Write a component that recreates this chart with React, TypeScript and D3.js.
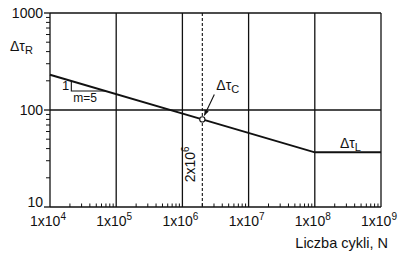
import React from "react";
import * as d3 from "d3";

const xDecades = [4, 5, 6, 7, 8, 9];
const yDecades = [1, 2, 3];
const yTickLabels = ["10", "100", "1000"];
const snN = [1e4, 2e6, 1e8, 1e9];
const snTau = [231, 80, 36.6, 36.6];
const detailN = 2e6;
const detailTau = 80;
const slopeStartN = 2.1e4;
const slopeEndTau = 157;

const W = 408;
const H = 256;
const FONT = "'Liberation Sans', Arial, Helvetica, sans-serif";

export default function App() {
  const x = d3.scaleLog().domain([1e4, 1e9]).range([50, 381]);
  const y = d3.scaleLog().domain([10, 1000]).range([207, 13]);

  const line = d3
    .line<number>()
    .x((_, i) => x(snN[i]))
    .y((d) => y(d));

  const xMinor: number[] = [];
  for (let e = 4; e < 9; e++) for (let k = 2; k <= 9; k++) xMinor.push(k * Math.pow(10, e));
  const yMinor: number[] = [];
  for (let e = 1; e < 3; e++) for (let k = 2; k <= 9; k++) yMinor.push(k * Math.pow(10, e));

  const px = x(detailN);
  const py = y(detailTau);

  const seg = d3.scaleLog().domain([snN[0], snN[1]]).range([Math.log10(snTau[0]), Math.log10(snTau[1])]);
  const sx0 = x(slopeStartN);
  const sy0 = y(Math.pow(10, seg(slopeStartN)));
  const sy1 = y(slopeEndTau);
  const sx1 = x(seg.invert(Math.log10(slopeEndTau)));

  const ax0 = px + 12;
  const ay0 = py - 25;
  const ax1 = px + 2;
  const ay1 = py - 4;
  const ang = Math.atan2(ay1 - ay0, ax1 - ax0);
  const ah = 6;
  const headPts = [
    [ax1, ay1],
    [ax1 - ah * Math.cos(ang - 0.4), ay1 - ah * Math.sin(ang - 0.4)],
    [ax1 - ah * Math.cos(ang + 0.4), ay1 - ah * Math.sin(ang + 0.4)],
  ];

  const yLabelOffset = [0, 5, 5];

  return (
    <svg
      width={W}
      height={H}
      style={{ position: "absolute", left: 0, top: 0, background: "#fff" }}
      fontFamily={FONT}
    >
      <rect x={0} y={0} width={W} height={H} fill="#fff" />
      {xDecades.map((e) => (
        <line
          key={"vx" + e}
          x1={x(Math.pow(10, e))}
          x2={x(Math.pow(10, e))}
          y1={y(10)}
          y2={y(1000)}
          stroke="#111"
          strokeWidth={1.3}
        />
      ))}
      {yDecades.map((e) => (
        <line
          key={"hy" + e}
          x1={x(1e4)}
          x2={x(1e9)}
          y1={y(Math.pow(10, e))}
          y2={y(Math.pow(10, e))}
          stroke="#111"
          strokeWidth={1.3}
        />
      ))}
      {xMinor.map((v, i) => (
        <line key={"xm" + i} x1={x(v)} x2={x(v)} y1={y(10)} y2={y(10) - 3.5} stroke="#111" strokeWidth={1} />
      ))}
      {yMinor.map((v, i) => (
        <line key={"ym" + i} x1={x(1e4) - 4} x2={x(1e4)} y1={y(v)} y2={y(v)} stroke="#111" strokeWidth={1} />
      ))}
      {yDecades.map((e) => (
        <line
          key={"ymj" + e}
          x1={x(1e4) - 6}
          x2={x(1e4)}
          y1={y(Math.pow(10, e))}
          y2={y(Math.pow(10, e))}
          stroke="#111"
          strokeWidth={1.3}
        />
      ))}
      <line x1={px} x2={px} y1={y(1000)} y2={y(10)} stroke="#111" strokeWidth={1.1} strokeDasharray="3,2" />
      <path d={line(snTau) || ""} fill="none" stroke="#111" strokeWidth={2} />
      <polyline
        points={`${sx0},${sy0} ${sx0},${sy1} ${sx1},${sy1}`}
        fill="none"
        stroke="#111"
        strokeWidth={1.1}
      />
      <text x={sx0 - 2} y={sy1 - 1} fontSize={13} textAnchor="end" fill="#111">1</text>
      <text x={sx0 + 2} y={sy1 + 11} fontSize={12} fill="#111">m=5</text>
      <circle cx={px} cy={py} r={2.6} fill="#fff" stroke="#111" strokeWidth={1.1} />
      <line x1={ax0} y1={ay0} x2={ax1} y2={ay1} stroke="#111" strokeWidth={1.1} />
      <polygon points={headPts.map((p) => p.join(",")).join(" ")} fill="#111" />
      <text x={px + 14} y={py - 29} fontSize={14} fill="#111">
        Δτ<tspan fontSize={11} dy={3}>C</tspan>
      </text>
      <text
        transform={`translate(${px - 7},${py + 45}) rotate(-90)`}
        fontSize={14}
        textAnchor="middle"
        fill="#111"
      >
        2x10<tspan fontSize={10} dy={-6}>6</tspan>
      </text>
      <text x={x(2.4e8)} y={y(36.6) - 4} fontSize={14} fill="#111">
        Δτ<tspan fontSize={11} dy={3}>L</tspan>
      </text>
      <text x={10} y={51} fontSize={14} fill="#111">
        Δτ<tspan fontSize={11} dy={3}>R</tspan>
      </text>
      {yDecades.map((e, i) => (
        <text
          key={"yl" + e}
          x={x(1e4) - 7}
          y={y(Math.pow(10, e)) + yLabelOffset[i]}
          fontSize={14}
          textAnchor="end"
          fill="#111"
        >
          {yTickLabels[i]}
        </text>
      ))}
      {xDecades.map((e) => (
        <text key={"xl" + e} x={x(Math.pow(10, e)) - 2} y={y(10) + 19} fontSize={14} textAnchor="middle" fill="#111">
          1x10<tspan fontSize={10} dy={-6}>{e}</tspan>
        </text>
      ))}
      <text x={388} y={248} fontSize={14.5} textAnchor="end" fill="#111">
        Liczba cykli, N
      </text>
    </svg>
  );
}
